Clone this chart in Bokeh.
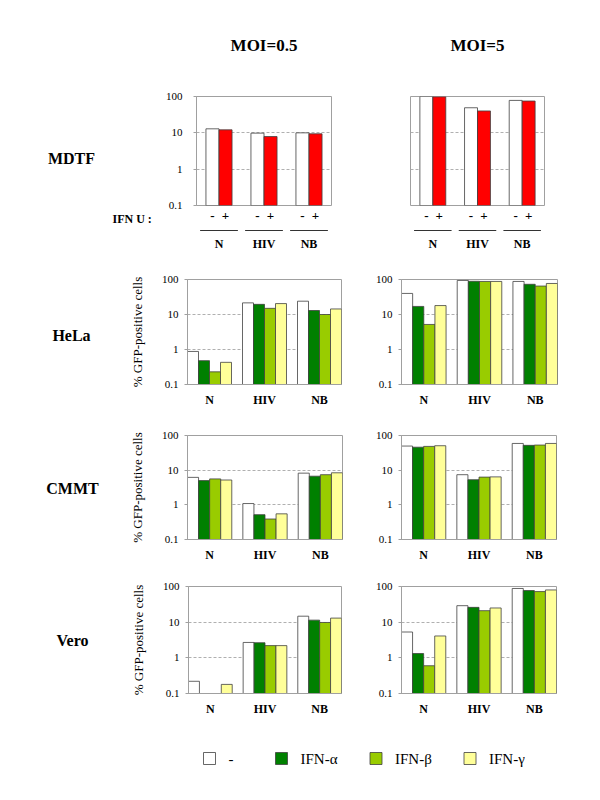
from bokeh.plotting import figure
from bokeh.layouts import column, row
from bokeh.models import (ColumnDataSource, Range1d, FixedTicker, NumeralTickFormatter)
from bokeh.core.properties import value
from bokeh.embed import file_html
from bokeh.resources import INLINE

# ---------------- data ----------------
groups = ["N", "HIV", "NB"]
series = ["-", "IFN-α", "IFN-β", "IFN-γ"]
series_colors = ["#ffffff", "#008000", "#99cc00", "#ffff99"]
ifn_u = ["-", "+"]
ifn_u_colors = ["#ffffff", "#ff0000"]
moi_titles = ["MOI=0.5", "MOI=5"]
cell_lines = ["MDTF", "HeLa", "CMMT", "Vero"]
y_ticks = [0.1, 1, 10, 100]
y_label = "% GFP-positive cells"
ifn_u_label = "IFN U :"

# MDTF: rows = IFN U (-, +), columns = N, HIV, NB
mdtf_moi05 = [[12.9, 9.8, 10.0],
              [12.1, 7.9, 9.4]]
mdtf_moi5 = [[100, 49, 78],
             [98, 40, 75]]

# other cells: rows = -, IFN-a, IFN-b, IFN-g ; columns = N, HIV, NB
hela_moi05 = [[0.88, 21.5, 24.0],
              [0.48, 19.5, 13.0],
              [0.23, 15.0, 10.0],
              [0.43, 20.5, 14.4]]
hela_moi5 = [[40, 94, 88],
             [17, 89, 73],
             [5.2, 88, 65],
             [18, 88, 77]]
cmmt_moi05 = [[6.2, 1.09, 8.2],
              [5.0, 0.52, 6.7],
              [5.6, 0.39, 7.4],
              [5.2, 0.55, 8.4]]
cmmt_moi5 = [[49.6, 7.4, 59],
             [46, 5.3, 52],
             [48.5, 6.3, 53],
             [50.7, 6.4, 59]]
vero_moi05 = [[0.22, 2.7, 14.7],
              [None, 2.65, 11.4],
              [None, 2.2, 9.8],
              [0.18, 2.2, 13.0]]
vero_moi5 = [[5.3, 29, 88],
             [1.32, 26, 77],
             [0.6, 21, 72],
             [4.1, 25, 80]]

# ---------------- style / layout constants ----------------
FONT = "Liberation Serif"
Y_MIN, Y_MAX = y_ticks[0], y_ticks[-1]
FRAME_COLOR = "#a0a0a0"
BAR_LINE = "#404040"
BW = 0.29  # MDTF bar width in group units
LEGEND_BOX_X = [209, 281, 375.5, 469.5]


def blank(width, height):
    p = figure(width=width, height=height,
               x_range=Range1d(0, width), y_range=Range1d(height, 0),
               output_backend="svg", toolbar_location=None, frame_align=False,
               min_border_left=0, min_border_right=0, min_border_top=0, min_border_bottom=0)
    p.axis.visible = False
    p.grid.visible = False
    p.outline_line_color = None
    return p


def strip(width, height, name, cx, cy, extra=None):
    p = blank(width, height)
    p.text(x=[cx], y=[cy], text=[name], text_align="center", text_baseline="middle",
           text_font=value(FONT), text_font_style="bold", text_font_size="16px",
           text_color="#000000")
    if extra:
        tx, ty, tt = extra
        p.text(x=[tx], y=[ty], text=[tt], text_align="left", text_baseline="middle",
               text_font=value(FONT), text_font_style="bold", text_font_size="12px",
               text_color="#000000")
    return p


def style_common(p, label_standoff=6):
    p.outline_line_color = FRAME_COLOR
    p.outline_line_width = 1
    p.xgrid.visible = False
    p.ygrid.ticker = FixedTicker(ticks=y_ticks)
    p.ygrid.grid_line_color = "#b0b0b0"
    p.ygrid.grid_line_dash = "3 2"
    p.yaxis.ticker = FixedTicker(ticks=y_ticks)
    p.yaxis.formatter = NumeralTickFormatter(format="0.[0]")
    p.yaxis.axis_line_color = FRAME_COLOR
    p.yaxis.major_tick_line_color = FRAME_COLOR
    p.yaxis.major_tick_out = 3
    p.yaxis.major_tick_in = 0
    p.yaxis.minor_tick_line_color = None
    p.yaxis.major_label_standoff = label_standoff
    p.yaxis.major_label_text_font = FONT
    p.yaxis.major_label_text_font_size = "11px"
    p.yaxis.major_label_text_color = "#000000"
    p.xaxis.axis_line_color = FRAME_COLOR
    p.xaxis.major_tick_line_color = None
    p.xaxis.minor_tick_line_color = None
    p.xaxis.major_label_text_font = FONT
    p.xaxis.major_label_text_font_style = "bold"
    p.xaxis.major_label_text_color = "#000000"


def bar_panel(vals, width, height, mbl, mbr, mbt, mbb, ylab=None):
    n = len(series)
    p = figure(width=width, height=height, y_axis_type="log",
               x_range=Range1d(0, len(groups) * (n + 1) - 1), y_range=Range1d(Y_MIN, Y_MAX),
               output_backend="svg", toolbar_location=None, frame_align=False,
               min_border_left=mbl, min_border_right=mbr, min_border_top=mbt, min_border_bottom=mbb)
    xs, tops, cols = [], [], []
    for s in range(n):
        for g in range(len(groups)):
            v = vals[s][g]
            if v is None:
                continue
            xs.append(g * (n + 1) + s + 0.5)
            tops.append(v)
            cols.append(series_colors[s])
    src = ColumnDataSource(data=dict(x=xs, top=tops, color=cols))
    p.vbar(x="x", top="top", bottom=Y_MIN, width=1, fill_color="color",
           line_color=BAR_LINE, line_width=0.8, source=src)
    style_common(p)
    centers = [g * (n + 1) + n / 2 for g in range(len(groups))]
    p.xaxis.ticker = FixedTicker(ticks=centers)
    p.xaxis.major_label_overrides = {c: g for c, g in zip(centers, groups)}
    p.xaxis.major_label_standoff = 2
    p.xaxis.major_label_text_font_size = "12px"
    if ylab:
        p.yaxis.axis_label = ylab
        p.yaxis.axis_label_text_font = FONT
        p.yaxis.axis_label_text_font_style = "normal"
        p.yaxis.axis_label_text_font_size = "13px"
        p.yaxis.axis_label_text_color = "#000000"
        p.yaxis.axis_label_standoff = 14
    return p


HEAD_H = 80
MDTF_H = 145


def mdtf_panel(vals, width, mbl, mbr, show_y, title):
    p = figure(width=width, height=MDTF_H, y_axis_type="log",
               x_range=Range1d(-0.5, len(groups) - 0.5), y_range=Range1d(Y_MIN, Y_MAX),
               output_backend="svg", toolbar_location=None, frame_align=False,
               min_border_left=mbl, min_border_right=mbr, min_border_top=16, min_border_bottom=20)
    xs, tops, cols, labs = [], [], [], []
    for s in range(len(ifn_u)):
        for g in range(len(groups)):
            xs.append(g + (s - 0.5) * BW)
            tops.append(vals[s][g])
            cols.append(ifn_u_colors[s])
            labs.append(ifn_u[s])
    src = ColumnDataSource(data=dict(x=xs, top=tops, color=cols))
    p.vbar(x="x", top="top", bottom=Y_MIN, width=BW, fill_color="color",
           line_color=BAR_LINE, line_width=0.8, source=src)
    style_common(p, label_standoff=11)
    p.xaxis.ticker = FixedTicker(ticks=xs)
    p.xaxis.major_label_overrides = {x: l for x, l in zip(xs, labs)}
    p.xaxis.axis_line_color = None
    p.xaxis.major_label_standoff = 0
    p.xaxis.major_label_text_font_size = "13px"
    if not show_y:
        p.yaxis.visible = False

    head = figure(width=width, height=HEAD_H, x_range=p.x_range, y_range=Range1d(HEAD_H, 0),
                  output_backend="svg", toolbar_location=None, frame_align=False,
                  min_border_left=mbl, min_border_right=mbr, min_border_top=0, min_border_bottom=0)
    head.axis.visible = False
    head.grid.visible = False
    head.outline_line_color = None
    head.text(x=[(len(groups) - 1) / 2], y=[45], text=[title], text_align="center",
              text_baseline="middle", text_font=value(FONT), text_font_style="bold",
              text_font_size="17px", text_color="#000000")

    sub = figure(width=width, height=30, x_range=p.x_range, y_range=Range1d(30, 0),
                 output_backend="svg", toolbar_location=None, frame_align=False,
                 min_border_left=mbl, min_border_right=mbr, min_border_top=0, min_border_bottom=0)
    sub.axis.visible = False
    sub.grid.visible = False
    sub.outline_line_color = None
    gx = list(range(len(groups)))
    sub.segment(x0=[g - 0.42 for g in gx], x1=[g + 0.42 for g in gx],
                y0=[5] * len(gx), y1=[5] * len(gx), line_color="#333333", line_width=1)
    sub.text(x=gx, y=[18] * len(gx), text=groups, text_align="center", text_baseline="middle",
             text_font=value(FONT), text_font_style="bold", text_font_size="12px",
             text_color="#000000")
    return head, p, sub


# ---------------- build ----------------
WR = 232

# MDTF block: strip 0-160, left 160-360, right 360-592
mdtf_l_head, mdtf_l, mdtf_l_sub = mdtf_panel(mdtf_moi05, 200, 36, 29, True, moi_titles[0])
mdtf_r_head, mdtf_r, mdtf_r_sub = mdtf_panel(mdtf_moi5, WR, 50, 48, False, moi_titles[1])
mdtf_strip_head = blank(160, HEAD_H)
mdtf_strip = strip(160, MDTF_H, cell_lines[0], 71, 158 - HEAD_H,
                   extra=(112, 218 - HEAD_H, ifn_u_label))
mdtf_strip_sub = blank(160, 30)

# other rows: strip 0-110, left 110-360, right 360-592
hela_strip = strip(110, 157, cell_lines[1], 71, 80)
hela_l = bar_panel(hela_moi05, 250, 157, 77, 19, 24, 28, ylab=y_label)
hela_r = bar_panel(hela_moi5, WR, 157, 41, 35, 24, 28)

cmmt_strip = strip(110, 153, cell_lines[2], 72, 76)
cmmt_l = bar_panel(cmmt_moi05, 250, 153, 77, 18, 23, 26, ylab=y_label)
cmmt_r = bar_panel(cmmt_moi5, WR, 153, 41, 36, 23, 26)

vero_strip = strip(110, 155, cell_lines[3], 72, 75)
vero_l = bar_panel(vero_moi05, 250, 155, 78, 19, 21, 27, ylab=y_label)
vero_r = bar_panel(vero_moi5, WR, 155, 41, 36, 21, 27)

# legend
leg = blank(592, 72)
leg.rect(x=LEGEND_BOX_X, y=[38] * len(series), width=12, height=12,
         fill_color=series_colors, line_color=BAR_LINE, line_width=0.8)
leg.text(x=[bx + 19 for bx in LEGEND_BOX_X], y=[38] * len(series), text=series,
         text_align="left", text_baseline="middle", text_font=value(FONT),
         text_font_size="15px", text_color="#000000")

layout = column(
    row(mdtf_strip_head, mdtf_l_head, mdtf_r_head),
    row(mdtf_strip, mdtf_l, mdtf_r),
    row(mdtf_strip_sub, mdtf_l_sub, mdtf_r_sub),
    row(hela_strip, hela_l, hela_r),
    row(cmmt_strip, cmmt_l, cmmt_r),
    row(vero_strip, vero_l, vero_r),
    leg,
)

open("out.html", "w").write(file_html(layout, INLINE))
